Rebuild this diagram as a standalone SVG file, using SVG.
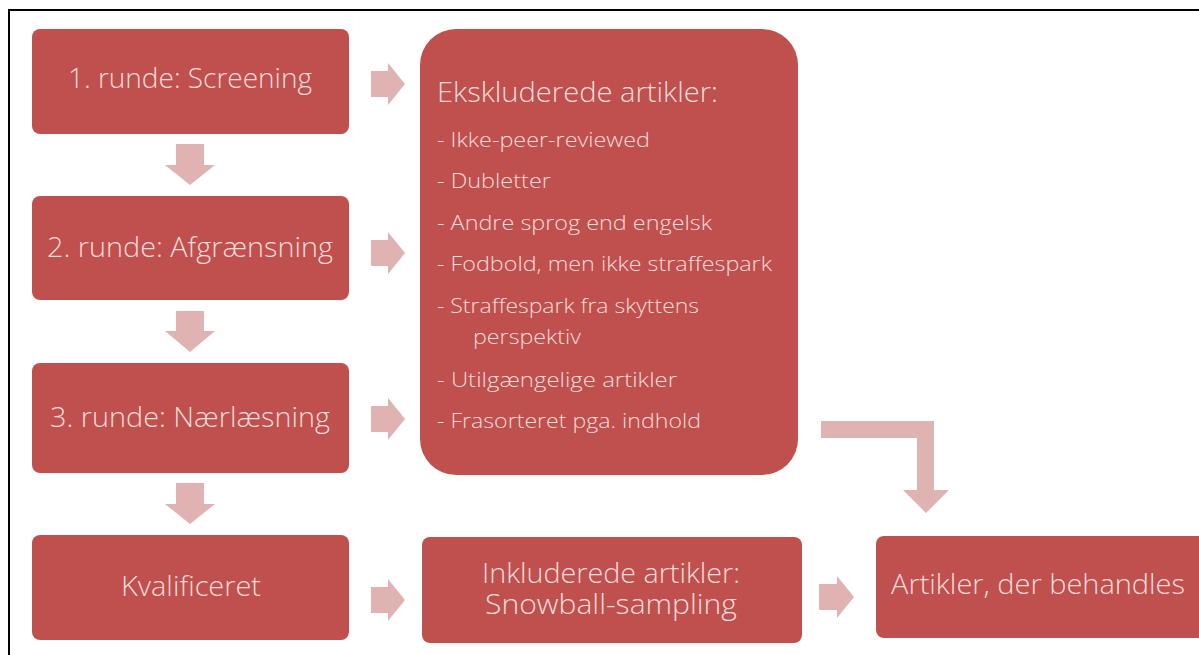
<svg xmlns="http://www.w3.org/2000/svg" width="1199" height="655" viewBox="0 0 1199 655">
<style>
.box{fill:#c0504d;}
.arr{fill:#dfb3b2;}
.t{font-family:"Open Sans","Liberation Sans",sans-serif;font-weight:300;fill:#f3dcdc;}
.h{font-size:27px;}
.i{font-size:21px;}
</style>
<rect x="0" y="0" width="1199" height="655" fill="#ffffff"/>
<rect x="9" y="10" width="1220" height="700" fill="none" stroke="#000" stroke-width="2"/>
<g id="connectors">
<polygon class="arr" points="176,144 204,144 204,165 215,165 190,185 165,165 176,165"/>
<polygon class="arr" points="176,311 204,311 204,331 215,331 190,352 165,331 176,331"/>
<polygon class="arr" points="176,483 204,483 204,504 215,504 190,524 165,504 176,504"/>
<polygon class="arr" points="371,71 388,71 388,63 405,84 388,105 388,97 371,97"/>
<polygon class="arr" points="371,240 388,240 388,232 405,253 388,274 388,266 371,266"/>
<polygon class="arr" points="371,406 388,406 388,398 405,419 388,440 388,432 371,432"/>
<polygon class="arr" points="371,587 388,587 388,579 405,600 388,621 388,613 371,613"/>
<polygon class="arr" points="819,584 837,584 837,576 854,597 837,618 837,610 819,610"/>
<polygon class="arr" points="821,421 934,421 934,490 949,490 926,513 903,490 917,490 917,438 821,438"/>
</g>
<g id="n1">
<rect class="box" x="32" y="29" width="317" height="105" rx="8"/>
<text class="t h" x="68" y="88" textLength="244" lengthAdjust="spacingAndGlyphs">1. runde: Screening</text>
</g>
<g id="n2">
<rect class="box" x="32" y="196" width="317" height="104" rx="8"/>
<text class="t h" x="47" y="257" textLength="286" lengthAdjust="spacingAndGlyphs">2. runde: Afgrænsning</text>
</g>
<g id="n3">
<rect class="box" x="32" y="363" width="317" height="110" rx="8"/>
<text class="t h" x="50" y="427" textLength="280" lengthAdjust="spacingAndGlyphs">3. runde: Nærlæsning</text>
</g>
<g id="n4">
<rect class="box" x="32" y="535" width="317" height="105" rx="8"/>
<text class="t h" x="121" y="596" textLength="140" lengthAdjust="spacingAndGlyphs">Kvalificeret</text>
</g>
<g id="excluded">
<rect class="box" x="420" y="29" width="378" height="446" rx="36"/>
<text class="t h" x="437" y="102" textLength="281" lengthAdjust="spacingAndGlyphs">Ekskluderede artikler:</text>
<text class="t i" x="437" y="147" textLength="213" lengthAdjust="spacingAndGlyphs">- Ikke-peer-reviewed</text>
<text class="t i" x="437" y="188" textLength="114" lengthAdjust="spacingAndGlyphs">- Dubletter</text>
<text class="t i" x="437" y="230" textLength="275" lengthAdjust="spacingAndGlyphs">- Andre sprog end engelsk</text>
<text class="t i" x="437" y="271" textLength="335" lengthAdjust="spacingAndGlyphs">- Fodbold, men ikke straffespark</text>
<text class="t i" x="437" y="313" textLength="262" lengthAdjust="spacingAndGlyphs">- Straffespark fra skyttens</text>
<text class="t i" x="473" y="344" textLength="108" lengthAdjust="spacingAndGlyphs">perspektiv</text>
<text class="t i" x="437" y="387" textLength="240" lengthAdjust="spacingAndGlyphs">- Utilgængelige artikler</text>
<text class="t i" x="437" y="428" textLength="264" lengthAdjust="spacingAndGlyphs">- Frasorteret pga. indhold</text>
</g>
<g id="included">
<rect class="box" x="422" y="537" width="380" height="106" rx="8"/>
<text class="t h" x="482" y="583" textLength="258" lengthAdjust="spacingAndGlyphs">Inkluderede artikler:</text>
<text class="t h" x="485" y="614" textLength="252" lengthAdjust="spacingAndGlyphs">Snowball-sampling</text>
</g>
<g id="treated">
<rect class="box" x="876" y="536" width="330" height="102" rx="8"/>
<text class="t h" x="891" y="594" textLength="294" lengthAdjust="spacingAndGlyphs">Artikler, der behandles</text>
</g>
</svg>
